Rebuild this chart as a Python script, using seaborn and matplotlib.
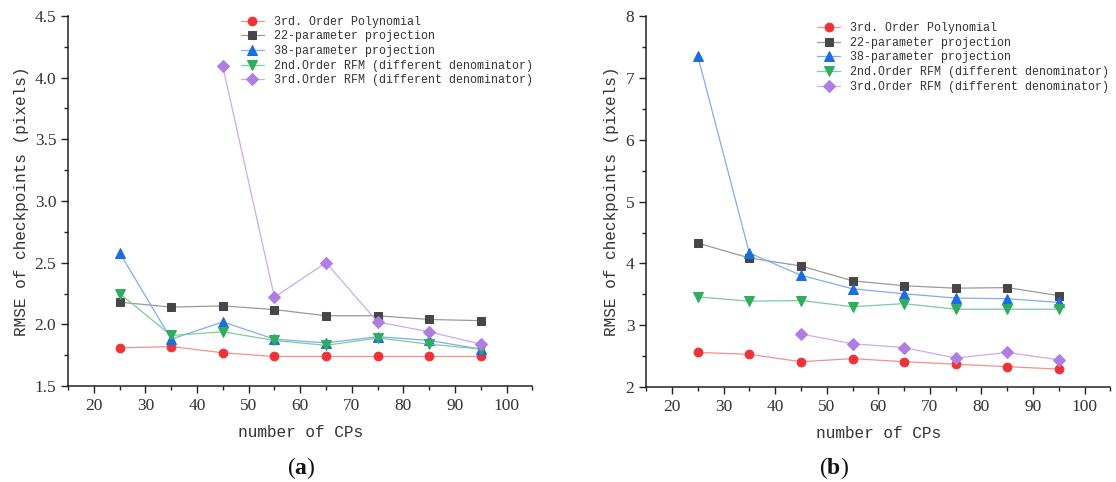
import numpy as np
import matplotlib
matplotlib.use("Agg")
import matplotlib.pyplot as plt
from matplotlib.ticker import MultipleLocator, FormatStrFormatter
import seaborn as sns

# Datos
cps = [25, 35, 45, 55, 65, 75, 85, 95]
nombres = ["3rd. Order Polynomial", "22-parameter projection", "38-parameter projection",
           "2nd.Order RFM (different denominator)", "3rd.Order RFM (different denominator)"]

# Panel (a)
a_poly3 = [1.81, 1.82, 1.77, 1.74, 1.74, 1.74, 1.74, 1.74]
a_p22 = [2.18, 2.14, 2.15, 2.12, 2.07, 2.07, 2.04, 2.03]
a_p38 = [2.58, 1.88, 2.02, 1.88, 1.85, 1.90, 1.87, 1.80]
a_rfm2 = [2.25, 1.91, 1.94, 1.87, 1.83, 1.89, 1.84, 1.80]
a_rfm3 = [np.nan, np.nan, 4.09, 2.22, 2.50, 2.02, 1.94, 1.84]

# Panel (b)
b_poly3 = [2.56, 2.53, 2.41, 2.46, 2.41, 2.37, 2.33, 2.29]
b_p22 = [4.33, 4.09, 3.96, 3.72, 3.64, 3.60, 3.61, 3.48]
b_p38 = [7.36, 4.17, 3.81, 3.59, 3.51, 3.44, 3.43, 3.37]
b_rfm2 = [3.46, 3.39, 3.40, 3.30, 3.35, 3.26, 3.26, 3.26]
b_rfm3 = [np.nan, np.nan, 2.86, 2.70, 2.64, 2.47, 2.56, 2.44]

# Estilo de cada serie: marcador, color linea, color marcador
estilos = [
    ("o", "#f59090", "#ee3338"),
    ("s", "#9a9a9a", "#474747"),
    ("^", "#80adf0", "#1a6ee0"),
    ("v", "#7ccb9c", "#2fac60"),
    ("D", "#cdaaf0", "#b07ee2"),
]

sns.set_style("ticks")
plt.rcParams["font.family"] = ["Liberation Serif", "DejaVu Serif"]
plt.rcParams["mathtext.fontset"] = "custom"
plt.rcParams["mathtext.bf"] = "Liberation Serif:bold"
plt.rcParams["mathtext.rm"] = "Liberation Serif"

fig = plt.figure(figsize=(11.16, 4.82), dpi=100)
ax_a = fig.add_axes([0.061, 0.199, 0.416, 0.768])
ax_b = fig.add_axes([0.579, 0.197, 0.416, 0.769])

mono = "Liberation Mono"


def panel(ax, series, ylim, ymaj, ymin, yfmt, leg_xy, ylab_x):
    for (mk, c_line, c_mk), vals, nombre in zip(estilos, series, nombres):
        ms = 7.5 if mk in ("^", "v") else 6.3
        if mk == "D":
            ms = 5.8
        sns.lineplot(x=cps, y=vals, color=c_line, marker=mk, markersize=ms,
                     markerfacecolor=c_mk, markeredgecolor=c_mk, linewidth=0.9,
                     label=nombre, ax=ax, legend=False)
    ax.set_xlim(15, 105)
    ax.set_ylim(*ylim)
    ax.xaxis.set_major_locator(MultipleLocator(10))
    ax.xaxis.set_minor_locator(MultipleLocator(5))
    ax.yaxis.set_major_locator(MultipleLocator(ymaj))
    ax.yaxis.set_minor_locator(MultipleLocator(ymin))
    ax.yaxis.set_major_formatter(FormatStrFormatter(yfmt))
    ax.set_xticks(range(20, 101, 10))
    ax.tick_params(which="major", length=5, width=1, color="#222222",
                   labelsize=12.5, labelcolor="#333333", direction="out")
    ax.tick_params(which="minor", length=3, width=1, color="#222222", direction="out")
    sns.despine(ax=ax)
    for s in ("left", "bottom"):
        ax.spines[s].set_linewidth(1.1)
        ax.spines[s].set_color("#222222")

    ax.set_xlabel("number of CPs", family=mono, fontsize=11.6, color="#333333")
    ax.set_ylabel("RMSE of checkpoints (pixels)", family=mono, fontsize=11.6, color="#333333")
    ax.xaxis.set_label_coords(0.5, -0.105)
    ax.yaxis.set_label_coords(ylab_x, 0.5)

    leg = ax.legend(loc="upper left", bbox_to_anchor=leg_xy, frameon=False,
                    prop={"family": mono, "size": 8.4}, borderpad=0, borderaxespad=0,
                    handlelength=2.0, handletextpad=0.85, labelspacing=0.22)
    for t in leg.get_texts():
        t.set_color("#333333")


panel(ax_a, [a_poly3, a_p22, a_p38, a_rfm2, a_rfm3], (1.5, 4.5), 0.5, 0.25, "%.1f",
      (0.372, 1.0), -0.085)
panel(ax_b, [b_poly3, b_p22, b_p38, b_rfm2, b_rfm3], (2, 8), 1, 0.5, "%d",
      (0.368, 0.984), -0.058)

fig.text(0.270, 0.030, r"($\mathbf{a}$)", fontsize=17, ha="center", va="center", color="#111111")
fig.text(0.747, 0.030, r"($\mathbf{b}$)", fontsize=17, ha="center", va="center", color="#111111")

fig.savefig("out.png", dpi=100)
